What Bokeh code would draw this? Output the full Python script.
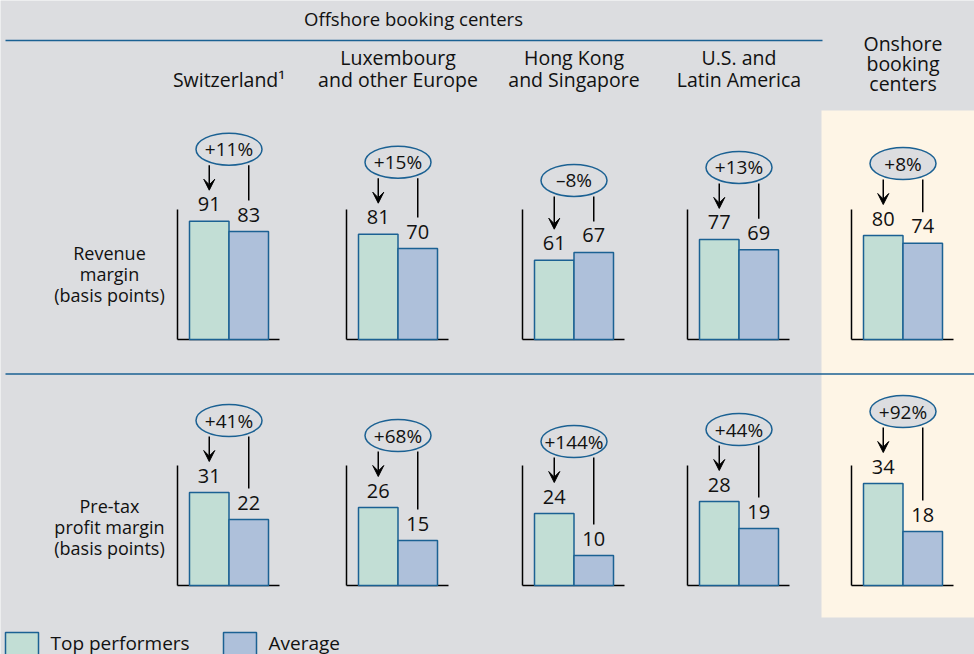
from bokeh.plotting import figure
from bokeh.models import Range1d, Arrow, VeeHead, ColumnDataSource
from bokeh.embed import file_html
from bokeh.resources import INLINE
from bokeh.core.properties import value

# ---------------- data ----------------
regions = [["Switzerland¹"], ["Luxembourg", "and other Europe"], ["Hong Kong", "and Singapore"],
           ["U.S. and", "Latin America"], ["Onshore", "booking", "centers"]]
rev_top = [91, 81, 61, 77, 80]
rev_avg = [83, 70, 67, 69, 74]
pft_top = [31, 26, 24, 28, 34]
pft_avg = [22, 15, 10, 19, 18]
rev_change = ["+11%", "+15%", "–8%", "+13%", "+8%"]
pft_change = ["+41%", "+68%", "+144%", "+44%", "+92%"]
row_labels = [["Revenue", "margin", "(basis points)"], ["Pre-tax", "profit margin", "(basis points)"]]
axis_max = [100, 40]
legend_labels = ["Top performers", "Average"]

# ---------------- styles ----------------
BG = "#dcdde0"
CREAM = "#fef5e6"
TEAL = "#c2ded5"
BLUE = "#aec0da"
EDGE = "#1b6193"
INK = "#111111"
FONT = value("Open Sans")
FS = "18.5px"

W, H = 974, 654
p = figure(width=W, height=H, x_range=Range1d(0, W), y_range=Range1d(H, 0),
           output_backend="svg", toolbar_location=None, min_border=0)
p.axis.visible = False
p.grid.visible = False
p.outline_line_color = None
p.background_fill_color = BG
p.border_fill_color = BG

# row scales: baseline pixel and pixels per unit
row_base = [339, 585]
row_scale = [1.30, 3.0]
names = ["rev", "pft"]
for nm, b, s in zip(names, row_base, row_scale):
    p.extra_y_ranges[nm] = Range1d(start=(b - H) / s, end=b / s)

# onshore background panel
p.quad(left=[821], right=[W], top=[110], bottom=[617], fill_color=CREAM, line_color=None)

# header lines
p.segment(x0=[5], y0=[40], x1=[822], y1=[40], line_color=EDGE, line_width=1.5)
p.segment(x0=[5], y0=[373.5], x1=[W], y1=[373.5], line_color=EDGE, line_width=1.5)
p.text(x=[413], y=[18], text=["Offshore booking centers"], text_align="center",
       text_baseline="middle", text_font=FONT, text_font_size=FS, text_color=INK)

axis_x = [177, 346, 522, 687, 851]
bw = 39.5
c1 = [a + 12 + bw / 2 for a in axis_x]
c2 = [a + 12 + 1.5 * bw for a in axis_x]
cm = [a + 12 + bw for a in axis_x]

# column headers
hx, hy, ht = [], [], []
for i, lines in enumerate(regions):
    n = len(lines)
    last = 83 if n == 3 else 79
    step = 20 if n == 3 else 22
    for j, t in enumerate(lines):
        hx.append(cm[i]); hy.append(last - (n - 1 - j) * step); ht.append(t)
p.text(x=hx, y=hy, text=ht, text_align="center", text_baseline="middle",
       text_font=FONT, text_font_size="19.5px", text_color=INK)

# row labels
rx, ry, rt = [], [], []
for r, lines in enumerate(row_labels):
    mid = [273, 526][r]
    for j, t in enumerate(lines):
        rx.append(109); ry.append(mid + (j - 1) * 21); rt.append(t)
p.text(x=rx, y=ry, text=rt, text_align="center", text_baseline="middle",
       text_font=FONT, text_font_size="18px", text_color=INK)

rows = [(rev_top, rev_avg, rev_change), (pft_top, pft_avg, pft_change)]
for r, (top, avg, chg) in enumerate(rows):
    nm = names[r]; s = row_scale[r]
    # axes
    p.segment(x0=axis_x, y0=[0] * 5, x1=axis_x, y1=[axis_max[r]] * 5,
              line_color="black", line_width=1.5, y_range_name=nm)
    p.segment(x0=axis_x, y0=[0] * 5, x1=[a + 102 for a in axis_x], y1=[0] * 5,
              line_color="black", line_width=1.5, y_range_name=nm)
    # bars
    p.vbar(x=c1, width=bw, top=top, bottom=0, fill_color=TEAL, line_color=EDGE,
           line_width=1.5, y_range_name=nm)
    p.vbar(x=c2, width=bw, top=avg, bottom=0, fill_color=BLUE, line_color=EDGE,
           line_width=1.5, y_range_name=nm)
    # value labels
    p.text(x=c1 + c2, y=top + avg, text=[str(v) for v in top + avg], text_align="center",
           text_baseline="alphabetic", y_offset=-17, text_font=FONT, text_font_size="20px",
           text_color=INK, y_range_name=nm)
    # ellipse callouts
    ey = [max(a, b) + 72 / s for a, b in zip(top, avg)]
    eb = [e - 16 / s for e in ey]
    src = ColumnDataSource(dict(x0=c1, y0=eb, x1=c1, y1=[v + 31 / s for v in top]))
    p.add_layout(Arrow(end=VeeHead(size=11, fill_color="black", line_color="black", line_width=1),
                       source=src, x_start="x0", y_start="y0", x_end="x1", y_end="y1",
                       line_color="black", line_width=1.5, y_range_name=nm))
    p.segment(x0=c2, y0=eb, x1=c2, y1=[v + 31 / s for v in avg], line_color="black",
              line_width=1.5, y_range_name=nm)
    p.ellipse(x=cm, y=ey, width=66, height=32, width_units="screen", height_units="screen",
              fill_color=BG, line_color=EDGE, line_width=1.5, y_range_name=nm)
    p.text(x=cm, y=ey, text=chg, text_align="center", text_baseline="middle",
           text_font=FONT, text_font_size="19px", text_color=INK, y_range_name=nm)

# legend
p.quad(left=[5, 223], right=[38, 256], top=[632, 632], bottom=[670, 670],
       fill_color=[TEAL, BLUE], line_color=EDGE, line_width=1.5)
p.text(x=[50, 268], y=[642, 642], text=legend_labels, text_align="left",
       text_baseline="middle", text_font=FONT, text_font_size="19px", text_color=INK)

open("out.html", "w").write(file_html(p, INLINE))
